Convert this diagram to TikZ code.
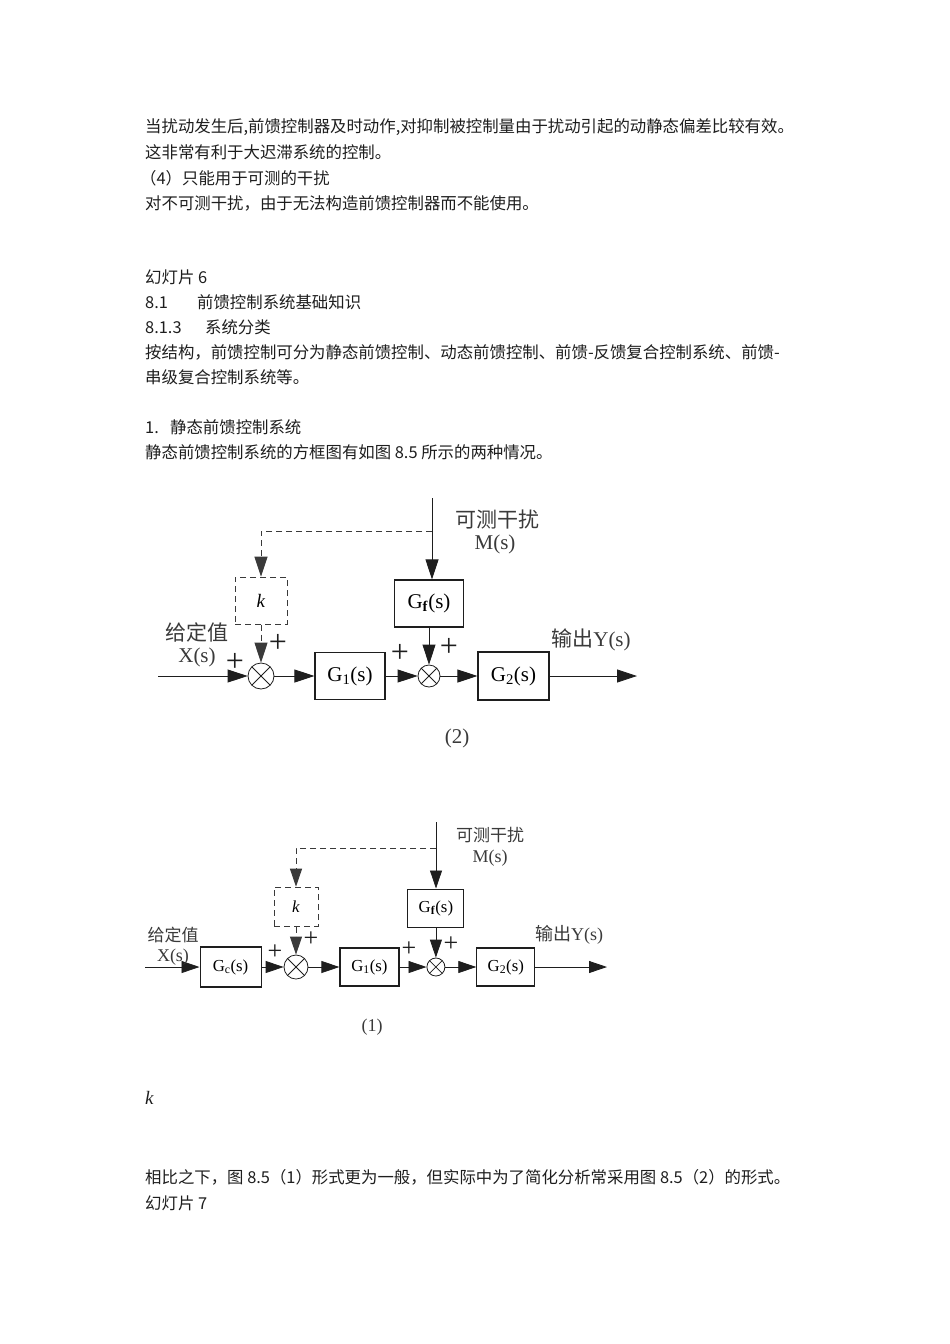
\documentclass[tikz,border=0pt]{standalone}
\usepackage{fontspec}
\setmainfont{Liberation Serif}
\newfontfamily\cjk{Noto Sans CJK SC}
\usetikzlibrary{arrows.meta,positioning}
\definecolor{ink}{HTML}{1E1E1E}
\definecolor{lgray}{HTML}{3A3A3A}
\newcommand{\bodysz}{\fontsize{16.4}{20}\selectfont}
\tikzset{
  para/.style={anchor=west,inner sep=0pt,text=ink,font=\cjk\bodysz},
  blkA/.style={draw=ink,line width=1.2pt,minimum width=70pt,minimum height=47pt,inner sep=0pt,font=\fontsize{21}{23}\selectfont},
  blkB/.style={draw=ink,line width=1.1pt,minimum width=58pt,minimum height=38pt,inner sep=0pt,font=\fontsize{16.8}{19}\selectfont},
  kbox/.style={dash pattern=on 6pt off 4pt,draw=lgray,line width=0.9pt},
  sumj/.style={circle,draw=ink,line width=0.8pt,inner sep=0pt,
    path picture={\draw[ink,line width=0.8pt]
      (path picture bounding box.north west) -- (path picture bounding box.south east)
      (path picture bounding box.north east) -- (path picture bounding box.south west);}},
  sigA/.style={-{Triangle[length=20pt,width=13pt]},line width=0.8pt,draw=ink},
  sigB/.style={-{Triangle[length=18pt,width=12pt]},line width=0.8pt,draw=ink},
  lblA/.style={inner sep=0pt,text=lgray,font=\fontsize{21}{24}\selectfont},
  lblB/.style={inner sep=0pt,text=lgray,font=\fontsize{18}{20}\selectfont},
  cjkA/.style={lblA,font=\cjk\fontsize{21}{24}\selectfont},
  cjkB/.style={lblB,font=\cjk\fontsize{17}{20}\selectfont},
  plusA/.style={inner sep=0pt,text=ink,font=\fontsize{32}{32}\selectfont},
  plusB/.style={inner sep=0pt,text=ink,font=\fontsize{26}{26}\selectfont},
}
\begin{document}
\begin{tikzpicture}[x=1pt,y=-1pt]
  \fill[white] (0,0) rectangle (950,1344);
  \useasboundingbox (0,0) rectangle (950,1344);

  % body text, top
  \node[para] (t1) at (145,127) {当扰动发生后,前馈控制器及时动作,对抑制被控制量由于扰动引起的动静态偏差比较有效。};
  \node[para] (t2) at (145,152) {这非常有利于大迟滞系统的控制。};
  \node[para] (t3) at (140,178) {（4）只能用于可测的干扰};
  \node[para] (t4) at (145,203) {对不可测干扰，由于无法构造前馈控制器而不能使用。};
  \node[para] (t5) at (145,277) {幻灯片 6};
  \node[para] (t6) at (145,302) {\makebox[52pt][l]{8.1}前馈控制系统基础知识};
  \node[para] (t7) at (145,327) {\makebox[60pt][l]{8.1.3}系统分类};
  \node[para] (t8) at (145,352) {按结构，前馈控制可分为静态前馈控制、动态前馈控制、前馈-反馈复合控制系统、前馈-};
  \node[para] (t9) at (145,377) {串级复合控制系统等。};
  \node[para] (t10) at (145,427) {\makebox[25pt][l]{1.}静态前馈控制系统};
  \node[para] (t11) at (145,452) {静态前馈控制系统的方框图有如图 8.5 所示的两种情况。};

  % figure (2)
  \node[sumj,minimum size=26pt] (a1) at (261,676) {};
  \node[blkA,right=40pt of a1] (ag1) {G\textsubscript{1}(s)};
  \node[sumj,minimum size=22pt,right=32pt of ag1] (a2) {};
  \node[blkA,minimum width=71pt,minimum height=48pt,right=37pt of a2] (ag2) {G\textsubscript{2}(s)};
  \node[blkA,minimum width=69pt,above=37pt of a2] (agf) {G\textsubscript{\textbf{f}}(s)};
  \node[blkA,kbox,minimum width=52pt,above=38pt of a1,font=\fontsize{19}{21}\selectfont] (ak) {\textit{k}};
  \coordinate (ain) at (158,676);
  \coordinate (aout) at (637,676);
  \coordinate (atop) at (432,498);
  \coordinate (ajn) at (432,531);
  \draw[sigA] (ain) -- (a1);
  \draw[sigA] (a1) -- (ag1);
  \draw[sigA] (ag1) -- (a2);
  \draw[sigA] (a2) -- (ag2);
  \draw[sigA] (ag2) -- (aout);
  \draw[sigA] (atop) -- (atop |- agf.north);
  \draw[sigA] (agf) -- (a2);
  \draw[sigA,kbox] (ajn) -| (ak.north);
  \draw[sigA,kbox] (ak) -- (a1);
  \node[cjkA] (adist) at (497,520) {可测干扰};
  \node[lblA] (am) at (495,544) {M(s)};
  \node[cjkA] (aset) at (197,632) {给定值};
  \node[lblA] (ax) at (197,657) {X(s)};
  \node[lblA] (ay) at (591,640) {{\cjk 输出}Y(s)};
  \node[lblA] (acap) at (457,738) {(2)};
  \node[plusA] (ap1) at (235,662) {+};
  \node[plusA] (ap2) at (278,643) {+};
  \node[plusA] (ap3) at (400,653) {+};
  \node[plusA] (ap4) at (449,647) {+};

  % figure (1)
  \node[sumj,minimum size=24pt] (b1) at (296,967) {};
  \node[blkB,minimum width=61pt,minimum height=40pt,left=22pt of b1] (bgc) {G\textsubscript{c}(s)};
  \node[blkB,minimum width=59pt,right=31pt of b1] (bg1) {G\textsubscript{1}(s)};
  \node[sumj,minimum size=18pt,right=27pt of bg1] (b2) {};
  \node[blkB,right=31pt of b2] (bg2) {G\textsubscript{2}(s)};
  \node[blkB,minimum width=56pt,above=30pt of b2] (bgf) {G\textsubscript{\textbf{f}}(s)};
  \node[blkB,kbox,minimum width=44pt,minimum height=39pt,above=28pt of b1] (bk) {\textit{k}};
  \coordinate (bin) at (145,967);
  \coordinate (bout) at (607,967);
  \coordinate (btop) at (436,822);
  \coordinate (bjn) at (436,848);
  \draw[sigB] (bin) -- (bgc);
  \draw[sigB] (bgc) -- (b1);
  \draw[sigB] (b1) -- (bg1);
  \draw[sigB] (bg1) -- (b2);
  \draw[sigB] (b2) -- (bg2);
  \draw[sigB] (bg2) -- (bout);
  \draw[sigB] (btop) -- (btop |- bgf.north);
  \draw[sigB] (bgf) -- (b2);
  \draw[sigB,kbox] (bjn) -| (bk.north);
  \draw[sigB,kbox] (bk) -- (b1);
  \node[cjkB] (bdist) at (490,835) {可测干扰};
  \node[lblB] (bm) at (490,858) {M(s)};
  \node[cjkB] (bset) at (173,935) {给定值};
  \node[lblB] (bx) at (173,957) {X(s)};
  \node[lblB] (by) at (569,935) {{\cjk 输出}Y(s)};
  \node[lblB] (bcap) at (372,1027) {(1)};
  \node[plusB] (bp1) at (275,952) {+};
  \node[plusB] (bp2) at (311,939) {+};
  \node[plusB] (bp3) at (409,949) {+};
  \node[plusB] (bp4) at (451,944) {+};

  % body text, bottom
  \node[anchor=west,inner sep=0pt,text=ink,font=\fontsize{19}{20}\selectfont] (kvar) at (145,1098) {\textit{k}};
  \node[para] (t12) at (145,1177) {相比之下，图 8.5（1）形式更为一般，但实际中为了简化分析常采用图 8.5（2）的形式。};
  \node[para] (t13) at (145,1203) {幻灯片 7};
\end{tikzpicture}
\end{document}
